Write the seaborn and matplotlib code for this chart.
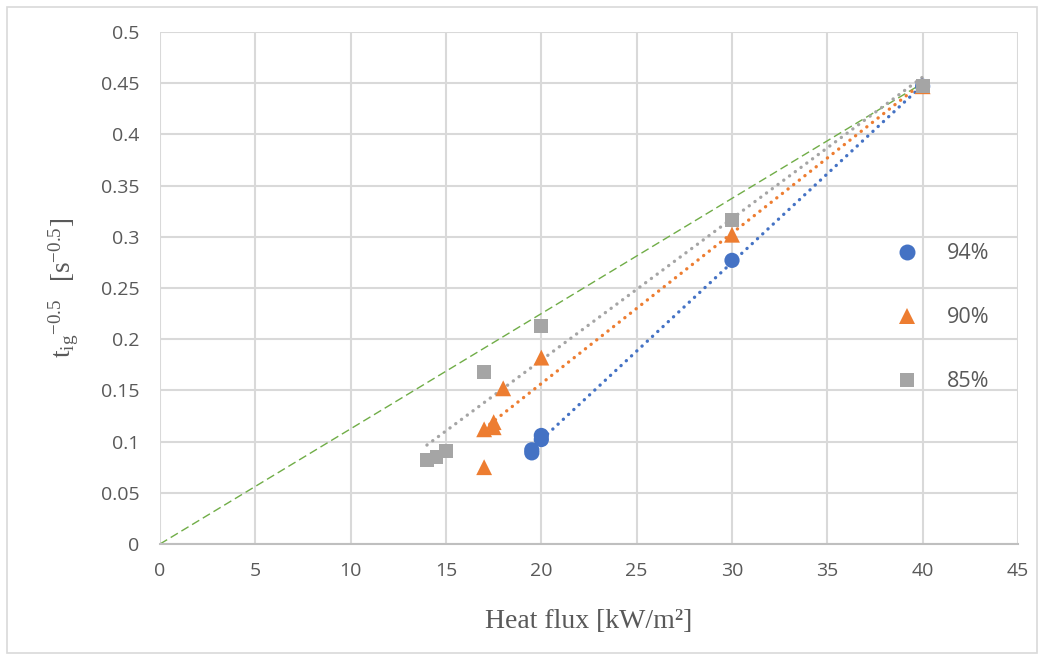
import numpy as np
import pandas as pd
import matplotlib
matplotlib.use("Agg")
import matplotlib.pyplot as plt
from matplotlib.lines import Line2D
from matplotlib.patches import Rectangle
import seaborn as sns

# ---- data ----
flux_94 = [19.5, 19.5, 20, 20, 30, 40]
tig_94 = [0.089, 0.092, 0.102, 0.106, 0.277, 0.447]
flux_90 = [17, 17, 17.5, 17.5, 18, 20, 30, 40]
tig_90 = [0.075, 0.112, 0.114, 0.119, 0.152, 0.182, 0.302, 0.447]
flux_85 = [14, 14.5, 15, 17, 20, 30, 40]
tig_85 = [0.082, 0.085, 0.091, 0.168, 0.213, 0.316, 0.447]
ref_x = [0, 40]
ref_y = [0, 0.45]
groups = ["94%", "90%", "85%"]
x_ticks = [0, 5, 10, 15, 20, 25, 30, 35, 40, 45]
y_ticks = [0, 0.05, 0.1, 0.15, 0.2, 0.25, 0.3, 0.35, 0.4, 0.45, 0.5]
y_tick_labels = ["0", "0.05", "0.1", "0.15", "0.2", "0.25", "0.3", "0.35", "0.4", "0.45", "0.5"]

df = pd.DataFrame({
    "flux": flux_94 + flux_90 + flux_85,
    "tig": tig_94 + tig_90 + tig_85,
    "group": ["94%"] * len(flux_94) + ["90%"] * len(flux_90) + ["85%"] * len(flux_85),
})

colors = {"94%": "#4472C4", "90%": "#ED7D31", "85%": "#A5A5A5"}
markers = {"94%": "o", "90%": "^", "85%": "s"}
sizes = {"94%": 120, "90%": 130, "85%": 100}

sns.set_theme(style="white")
plt.rcParams["font.family"] = ["Open Sans", "DejaVu Sans"]

fig = plt.figure(figsize=(10.44, 6.6), dpi=100)
fig.patch.set_facecolor("white")
fig.patches.append(Rectangle((7 / 1044, 7 / 660), 1030 / 1044, 646 / 660,
                             transform=fig.transFigure, fill=False,
                             edgecolor="#D9D9D9", linewidth=1.2))
ax = fig.add_axes([160 / 1044, 1 - 544 / 660, (1018 - 160) / 1044, (544 - 32) / 660])

# reference dashed line
ax.plot(ref_x, ref_y, color="#70AD47", linestyle=(0, (6, 3)), linewidth=1.0, zorder=2)

# trend lines
for g in groups:
    sub = df[df["group"] == g]
    sns.regplot(data=sub, x="flux", y="tig", ax=ax, scatter=False, ci=None, truncate=True,
                line_kws=dict(color=colors[g], linewidth=2.4, linestyle=(0, (0.05, 2.1)),
                              dash_capstyle="round", zorder=3))

# points
for g in groups:
    sub = df[df["group"] == g]
    sns.scatterplot(data=sub, x="flux", y="tig", ax=ax, color=colors[g], marker=markers[g],
                    s=sizes[g], edgecolor="none", linewidth=0, zorder=4, legend=False)

ax.set_xlim(0, 45)
ax.set_ylim(0, 0.5)
ax.set_xticks(x_ticks)
ax.set_yticks(y_ticks)
ax.set_yticklabels(y_tick_labels)
ax.grid(True, color="#D9D9D9", linewidth=1.5)
ax.set_axisbelow(True)
for name, s in ax.spines.items():
    s.set_visible(name == "bottom")
ax.spines["bottom"].set_color("#BFBFBF")
ax.spines["bottom"].set_linewidth(1.5)
ax.tick_params(axis="both", length=0, labelsize=14, colors="#595959")
ax.tick_params(axis="x", pad=13)
ax.tick_params(axis="y", pad=15)

ax.set_xlabel("Heat flux [kW/m²]", fontsize=20, color="#595959",
              family=["Liberation Serif", "DejaVu Serif"], labelpad=21)
ax.set_ylabel(r"$\mathregular{t_{ig}{}^{-0.5}\ \ [s^{-0.5}]}$", fontsize=19.5, color="#595959",
              family=["Liberation Serif", "DejaVu Serif"], labelpad=14)

handles = [Line2D([0], [0], linestyle="none", marker=markers[g], color=colors[g],
                  markersize=np.sqrt(sizes[g]) * 1.05, markeredgewidth=0) for g in groups]
leg = ax.legend(handles, groups, loc="upper left", bbox_to_anchor=(0.835, 0.625),
                frameon=False, fontsize=15.5, labelspacing=2.0, handlelength=1.0,
                handletextpad=1.35)
for t in leg.get_texts():
    t.set_color("#595959")

fig.savefig("out.png", dpi=100, facecolor="white")
